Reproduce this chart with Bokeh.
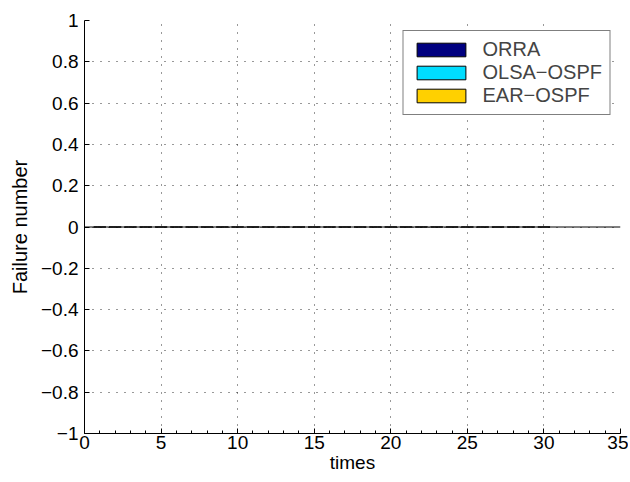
from bokeh.plotting import figure
from bokeh.models import ColumnDataSource, Legend, LegendItem, Span, FixedTicker, Range1d
from bokeh.transform import dodge
from bokeh.embed import file_html
from bokeh.resources import INLINE

times = list(range(1, 31))
orra = [0, 0, 0, 0, 0, 0, 0, 0, 0, 0, 0, 0, 0, 0, 0, 0, 0, 0, 0, 0, 0, 0, 0, 0, 0, 0, 0, 0, 0, 0]
olsa_ospf = [0, 0, 0, 0, 0, 0, 0, 0, 0, 0, 0, 0, 0, 0, 0, 0, 0, 0, 0, 0, 0, 0, 0, 0, 0, 0, 0, 0, 0, 0]
ear_ospf = [0, 0, 0, 0, 0, 0, 0, 0, 0, 0, 0, 0, 0, 0, 0, 0, 0, 0, 0, 0, 0, 0, 0, 0, 0, 0, 0, 0, 0, 0]
series_names = ["ORRA", "OLSA\u2212OSPF", "EAR\u2212OSPF"]
series_colors = ["#000080", "#00DDFF", "#FFD000"]
x_ticks = [0, 5, 10, 15, 20, 25, 30, 35]
y_ticks = [-1, -0.8, -0.6, -0.4, -0.2, 0, 0.2, 0.4, 0.6, 0.8, 1]
y_tick_labels = ["\u22121", "\u22120.8", "\u22120.6", "\u22120.4", "\u22120.2", "0", "0.2", "0.4", "0.6", "0.8", "1"]

FONT = "Liberation Sans"

p = figure(width=628, height=480, output_backend="svg", toolbar_location=None,
           x_range=Range1d(0, 35), y_range=Range1d(-1, 1),
           min_border_left=84, min_border_right=8, min_border_top=20, min_border_bottom=47)
p.outline_line_color = None

source = ColumnDataSource(dict(x=times, a=orra, b=olsa_ospf, c=ear_ospf))
w = 0.8 / 3
renderers = []
for i, (col, color) in enumerate(zip(["a", "b", "c"], series_colors)):
    r = p.vbar(x=dodge("x", (i - 1) * w, range=p.x_range), top=col, bottom=0, width=w,
               source=source, fill_color=color, line_color="black", line_width=1)
    renderers.append(r)

p.add_layout(Span(location=0, dimension="width", line_color="black", line_width=1))

for ax in (p.xaxis[0], p.yaxis[0]):
    ax.major_label_text_font = FONT
    ax.major_label_text_font_size = "19px"
    ax.major_label_text_color = "black"
    ax.axis_label_text_font = FONT
    ax.axis_label_text_font_size = "19px"
    ax.axis_label_text_font_style = "normal"
    ax.axis_label_text_color = "black"
    ax.axis_line_color = "black"
    ax.axis_line_width = 1
    ax.major_tick_in = 5
    ax.major_tick_out = 0
    ax.major_tick_line_color = "black"

p.yaxis.axis_label_text_font_size = "20px"
p.xaxis.ticker = FixedTicker(ticks=x_ticks, minor_ticks=list(range(0, 36)))
p.yaxis.ticker = FixedTicker(ticks=y_ticks)
p.xaxis.minor_tick_in = 3
p.xaxis.minor_tick_out = 0
p.xaxis.minor_tick_line_color = "black"
p.yaxis.minor_tick_line_color = None
p.xaxis.major_label_standoff = 2
p.yaxis.major_label_standoff = 6
p.xaxis.axis_label = "times"
p.yaxis.axis_label = "Failure number"
p.xaxis.axis_label_standoff = 0
p.yaxis.axis_label_standoff = 7
p.yaxis.major_label_overrides = dict(zip(y_ticks, y_tick_labels))

for g in (p.xgrid[0], p.ygrid[0]):
    g.grid_line_color = "black"
    g.grid_line_dash = "1 7"
    g.grid_line_width = 1
    g.grid_line_alpha = 0.8
p.xgrid.ticker = FixedTicker(ticks=x_ticks)
p.ygrid.ticker = FixedTicker(ticks=y_ticks)

legend = Legend(items=[LegendItem(label=n, renderers=[r]) for n, r in zip(series_names, renderers)],
                location="top_right")
legend.label_text_font = FONT
legend.label_text_font_size = "20px"
legend.glyph_width = 61
legend.glyph_height = 17
legend.label_height = 17
legend.spacing = 0
legend.padding = 7
legend.margin = 10
legend.label_standoff = 11
legend.border_line_color = "black"
legend.border_line_width = 1
legend.background_fill_color = "white"
legend.background_fill_alpha = 1
p.add_layout(legend)

open("out.html", "w").write(file_html(p, INLINE))
